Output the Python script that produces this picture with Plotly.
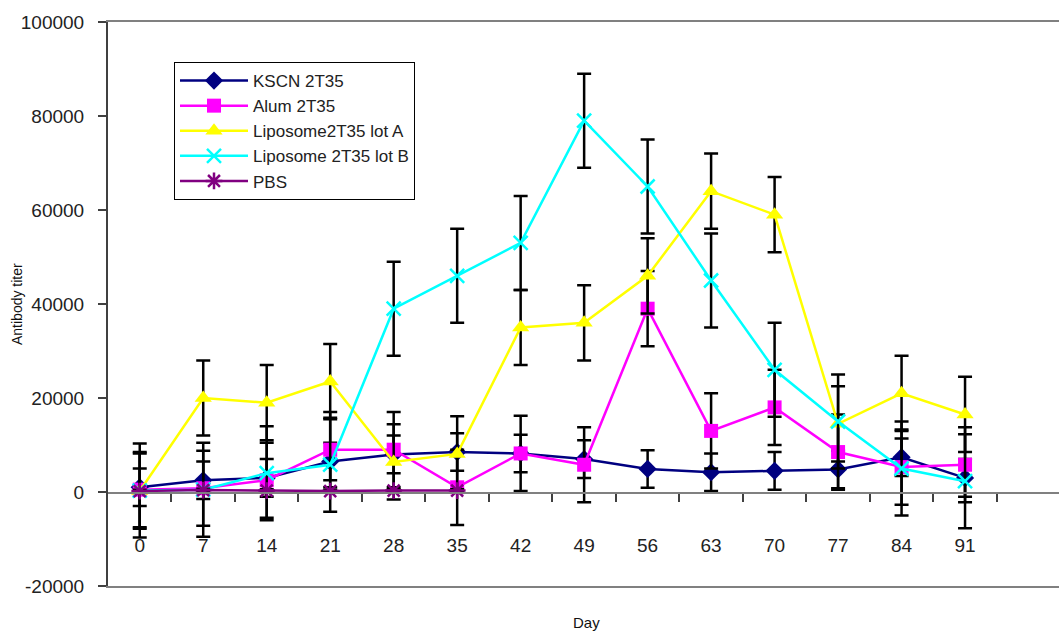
import plotly.graph_objects as go

days = ["0", "7", "14", "21", "28", "35", "42", "49", "56", "63", "70", "77", "84", "91"]

kscn = [1000, 2500, 3000, 6500, 8000, 8500, 8200, 7000, 4900, 4200, 4500, 4800, 7400, 3000]
kscn_err = [4000, 4000, 4000, 4000, 4000, 4000, 4000, 4000, 4000, 4000, 4000, 4000, 4000, 4000]

alum = [500, 800, 2500, 9000, 9000, 1000, 8200, 5800, 39000, 13000, 18000, 8500, 5300, 5800]
alum_err = [8000, 8000, 8000, 8000, 8000, 8000, 8000, 8000, 8000, 8000, 8000, 8000, 8000, 8000]

lipo_a = [200, 20000, 19000, 23500, 6400, 8100, 35000, 36000, 46000, 64000, 59000, 14500, 21000, 16500]
lipo_a_err = [8000, 8000, 8000, 8000, 8000, 8000, 8000, 8000, 8000, 8000, 8000, 8000, 8000, 8000]

lipo_b = [300, 500, 4000, 5800, 39000, 46000, 53000, 79000, 65000, 45000, 26000, 15000, 5000, 2300]
lipo_b_err = [10000, 10000, 10000, 10000, 10000, 10000, 10000, 10000, 10000, 10000, 10000, 10000, 10000, 10000]

pbs = [200, 400, 300, 200, 300, 300, None, None, None, None, None, None, None, None]
pbs_err = [300, 300, 300, 300, 300, 300, None, None, None, None, None, None, None, None]

y_ticks = [-20000, 0, 20000, 40000, 60000, 80000, 100000]
y_range = [-20000, 100000]

xpos = list(range(len(days)))
boundaries = [i + 0.5 for i in xpos]

series = [
    ("KSCN 2T35", kscn, kscn_err, "#000080", "diamond", 14),
    ("Alum 2T35", alum, alum_err, "#FF00FF", "square", 14),
    ("Liposome2T35 lot A", lipo_a, lipo_a_err, "#FFFF00", "triangle-up", 15),
    ("Liposome 2T35 lot B", lipo_b, lipo_b_err, "#00FFFF", "x-thin", 14),
    ("PBS", pbs, pbs_err, "#800080", "asterisk", 14),
]

fig = go.Figure()
for name, vals, errs, col, sym, size in series:
    marker = dict(symbol=sym, size=size, color=col)
    if sym in ("x-thin", "asterisk"):
        marker["line"] = dict(color=col, width=2.5)
    fig.add_trace(go.Scatter(
        x=xpos, y=vals, name=name, mode="lines+markers",
        legendgroup=name,
        line=dict(color=col, width=2.5),
        marker=marker,
        error_y=dict(type="data", array=errs, visible=True, color="black",
                     thickness=2.5, width=7),
        connectgaps=False,
    ))

# dummy traces to activate the helper axes
fig.add_trace(go.Scatter(x=[None], y=[None], xaxis="x2", yaxis="y2", showlegend=False, hoverinfo="skip"))
fig.add_trace(go.Scatter(x=[None], y=[None], xaxis="x3", yaxis="y2", showlegend=False, hoverinfo="skip"))

xr = [-0.5, 14.48]
# fraction of the plot height where y = 0 sits
zero_pos = (0 - y_range[0]) / (y_range[1] - y_range[0])
fig.update_layout(
    width=1059, height=634,
    margin=dict(l=108, r=0, t=22, b=48),
    paper_bgcolor="white", plot_bgcolor="rgba(0,0,0,0)",
    font=dict(family="Liberation Sans, Arial, sans-serif", color="#222222"),
    showlegend=True,
    legend=dict(x=(174 - 108) / 951, y=(586 - 62) / 564, xanchor="left", yanchor="top",
                bordercolor="black", borderwidth=1, bgcolor="rgba(255,255,255,0)",
                font=dict(size=17, color="#222222"), itemwidth=68,
                tracegroupgap=0),
    # plot-area border (bottom + top)
    xaxis=dict(
        range=xr, anchor="y", side="bottom",
        showline=True, mirror=True, linecolor="#808080", linewidth=2,
        showticklabels=False, ticks="", showgrid=False, zeroline=False,
    ),
    # axis line at y = 0 with tick marks at category boundaries
    xaxis2=dict(
        range=xr, overlaying="x", anchor="y2", side="bottom",
        showline=True, linecolor="#808080", linewidth=1.5,
        tickmode="array", tickvals=boundaries, showticklabels=False,
        ticks="outside", ticklen=8, tickcolor="#404040", tickwidth=1.5,
        showgrid=False, zeroline=False,
    ),
    # category labels
    xaxis3=dict(
        range=xr, overlaying="x", anchor="y2", side="bottom",
        showline=False, tickmode="array", tickvals=xpos, ticktext=days,
        ticks="", showgrid=False, zeroline=False,
        ticklabelstandoff=40,
        tickfont=dict(size=19, color="#222222"),
    ),
    yaxis=dict(
        range=y_range, tickmode="array", tickvals=y_ticks,
        ticktext=[str(v) for v in y_ticks],
        showline=True, linecolor="#404040", linewidth=2,
        ticks="outside", ticklen=8, tickcolor="#404040", tickwidth=1.5,
        showgrid=False, zeroline=False,
        ticklabelstandoff=10,
        tickfont=dict(size=19, color="#222222"),
    ),
    yaxis2=dict(
        domain=[zero_pos, 1], range=[0, 1], visible=False, showgrid=False, zeroline=False,
    ),
    annotations=[
        dict(text="Antibody titer", xref="paper", yref="paper", x=(17 - 108) / 951,
             y=0.5, xanchor="center", yanchor="middle", textangle=-90, showarrow=False,
             font=dict(size=14, color="#111111")),
        dict(text="Day", xref="paper", yref="paper", x=(586 - 108) / 951,
             y=(586 - 622) / 564, xanchor="center", yanchor="middle", showarrow=False,
             font=dict(size=15, color="#111111")),
    ],
)

fig.write_html("out.html")
